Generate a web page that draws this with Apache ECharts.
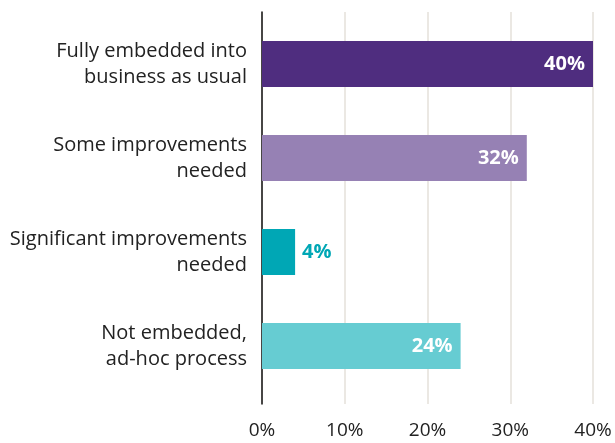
<!DOCTYPE html>
<html>
<head>
<meta charset="utf-8">
<script src="https://cdn.jsdelivr.net/npm/echarts@6/dist/echarts.min.js"></script>
<style>
  html, body { margin: 0; padding: 0; background: #ffffff; }
  #chart { width: 615px; height: 443px; }
</style>
</head>
<body>
<div id="chart"></div>
<script>
// Survey responses: how embedded the process is
const categories = [
  'Fully embedded into\nbusiness as usual',
  'Some improvements\nneeded',
  'Significant improvements\nneeded',
  'Not embedded,\nad-hoc process'
];
const shares = [40, 32, 4, 24];
const barColors = ['#4f2d7f', '#9681b4', '#00a7b5', '#66ccd2'];
const tickValues = [0, 10, 20, 30, 40];

const FONT = '"Open Sans", "Noto Sans", sans-serif';

const chart = echarts.init(document.getElementById('chart'), null, { renderer: 'canvas' });

const barData = shares.map((v, i) => {
  const small = v < 10;
  return {
    value: v,
    itemStyle: { color: barColors[i] },
    label: small
      ? { position: 'right', distance: 7, color: barColors[i] }
      : { position: 'insideRight', distance: 8, color: '#ffffff' }
  };
});

chart.setOption({
  animation: false,
  grid: [
    // frame: gridlines, baseline and percentage ticks
    { left: 262, right: 22, top: 12, height: 392 },
    // bars
    { left: 262, right: 22, top: 17, height: 376 }
  ],
  xAxis: [
    {
      gridIndex: 0, type: 'value', min: tickValues[0], max: tickValues[tickValues.length - 1], interval: 10,
      axisLine: { show: false }, axisTick: { show: false },
      splitLine: { show: true, lineStyle: { color: '#e4e1da', width: 1.5 } },
      axisLabel: { formatter: '{value}%', color: '#222222', fontSize: 19, fontFamily: FONT, margin: 17 }
    },
    {
      gridIndex: 1, type: 'value', min: tickValues[0], max: tickValues[tickValues.length - 1],
      show: false
    }
  ],
  yAxis: [
    {
      gridIndex: 0, type: 'category', data: categories, inverse: true,
      axisLine: { show: true, lineStyle: { color: '#111111', width: 1.5 } },
      axisTick: { show: false }, axisLabel: { show: false }, splitLine: { show: false }
    },
    {
      gridIndex: 1, type: 'category', data: categories, inverse: true,
      axisLine: { show: false }, axisTick: { show: false }, splitLine: { show: false },
      axisLabel: {
        color: '#222222', fontSize: 20, fontFamily: FONT, lineHeight: 26,
        align: 'right', margin: 15
      }
    }
  ],
  series: [
    {
      type: 'bar', xAxisIndex: 1, yAxisIndex: 1,
      data: barData, barWidth: 46,
      label: {
        show: true, formatter: '{c}%', fontSize: 20, fontWeight: 'bold', fontFamily: FONT
      }
    }
  ]
});
</script>
</body>
</html>
